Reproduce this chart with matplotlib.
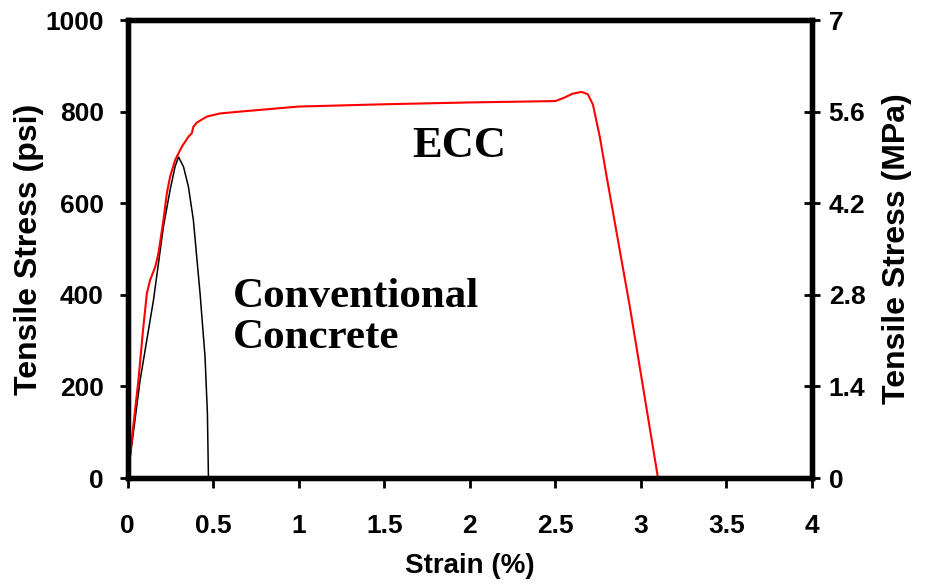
import matplotlib
matplotlib.use('Agg')
import matplotlib.pyplot as plt

# ECC curve (strain %, stress psi)
ecc_strain = [0, 0.030, 0.064, 0.090, 0.113, 0.132, 0.162, 0.181, 0.210, 0.230,
              0.249, 0.278, 0.317, 0.356, 0.376, 0.385, 0.405, 0.463, 0.541,
              0.658, 1.0, 1.5, 2.0, 2.5, 2.55, 2.60, 2.653, 2.69, 2.72, 2.76,
              2.80, 2.935, 3.10]
ecc_stress = [0, 100, 214, 320, 403, 432, 461, 491, 563, 622,
              658, 694, 723, 745, 753, 767, 776, 789, 796,
              800, 811, 816, 820, 823, 830, 839, 843, 838, 815, 745,
              658, 375, 0]

# conventional concrete curve
cc_strain = [0, 0.074, 0.152, 0.210, 0.249, 0.278, 0.298, 0.327, 0.356, 0.385,
             0.424, 0.453, 0.467, 0.473]
cc_stress = [0, 214, 389, 549, 629, 680, 701, 680, 636, 563,
             403, 265, 141, 0]

xticks = [0, 0.5, 1, 1.5, 2, 2.5, 3, 3.5, 4]
xticklabels = ['0', '0.5', '1', '1.5', '2', '2.5', '3', '3.5', '4']
yticks_psi = [0, 200, 400, 600, 800, 1000]
yticks_mpa = [0, 1.4, 2.8, 4.2, 5.6, 7]
yticklabels_mpa = ['0', '1.4', '2.8', '4.2', '5.6', '7']

sans = ['Liberation Sans', 'DejaVu Sans']
serif = ['Liberation Serif', 'DejaVu Serif']

W, H = 926, 585
fig = plt.figure(figsize=(W / 100, H / 100), dpi=100)
ax = fig.add_axes([127.5 / W, 1 - 478 / H, (812 - 127.5) / W, (478 - 20) / H])

ax.plot(cc_strain, cc_stress, color='black', lw=1.1)
ax.plot(ecc_strain, ecc_stress, color='#ff0000', lw=1.5)

ax.set_xlim(0, 4)
ax.set_ylim(0, 1000)
ax.set_xticks(xticks)
ax.set_xticklabels(xticklabels, fontfamily=sans, fontweight='bold', fontsize=19)
ax.set_yticks(yticks_psi)
ax.set_yticklabels([str(v) for v in yticks_psi], fontfamily=sans, fontweight='bold', fontsize=19)
ax.tick_params(axis='x', direction='out', length=7, width=2, pad=19)
ax.tick_params(axis='y', direction='out', length=6, width=2, pad=11, right=False)

ax.set_xlabel('Strain (%)', fontfamily=sans, fontweight='bold', fontsize=20, labelpad=11)
ax.set_ylabel('Tensile Stress (psi)', fontfamily=sans, fontweight='bold', fontsize=23, labelpad=1)

ax2 = ax.twinx()
ax2.set_ylim(0, 7)
ax2.set_yticks(yticks_mpa)
ax2.set_yticklabels(yticklabels_mpa, fontfamily=sans, fontweight='bold', fontsize=19)
ax2.tick_params(axis='y', direction='inout', length=12, width=2, pad=6)
ax2.set_ylabel('Tensile Stress (MPa)', fontfamily=sans, fontweight='bold', fontsize=23, labelpad=12)

for a in (ax, ax2):
    for s in a.spines.values():
        s.set_linewidth(3.8)
        s.set_color('black')

# annotations, placed in pixel coordinates from top-left
ax.text(412 / W, 1 - 157 / H, 'ECC', transform=fig.transFigure, fontfamily=serif,
        fontweight='bold', fontsize=32)
ax.text(233 / W, 1 - 348 / H, 'Conventional\nConcrete', transform=fig.transFigure,
        fontfamily=serif, fontweight='bold', fontsize=31, linespacing=1.1)

fig.savefig('out.png', dpi=100, facecolor='white')
